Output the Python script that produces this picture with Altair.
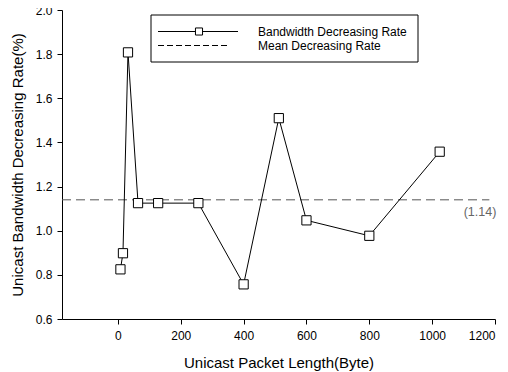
import altair as alt
import pandas as pd

packet_len = [8, 16, 32, 64, 128, 256, 400, 512, 600, 800, 1024]
rate = [0.825, 0.898, 1.808, 1.125, 1.125, 1.125, 0.757, 1.51, 1.047, 0.977, 1.358]
mean_value = 1.14
mean_x = [-178, 1182]

legend_labels = ["Bandwidth Decreasing Rate", "Mean Decreasing Rate"]

FONT = "Liberation Sans"
W, H = 433, 309

df = pd.DataFrame({"x": packet_len, "y": rate})
mean_df = pd.DataFrame({"x": [mean_x[0]], "x2": [mean_x[1]], "y": [mean_value]})
lab_df = pd.DataFrame({"x": [mean_x[1]], "y": [mean_value], "t": [f"({mean_value:.2f})"]})

xscale = alt.Scale(domain=[-178, 1200], nice=False, zero=False)
yscale = alt.Scale(domain=[0.6, 2.0], nice=False, zero=False)

xaxis = alt.Axis(values=[0, 200, 400, 600, 800, 1000, 1200], format="d", title="Unicast Packet Length(Byte)",
                 grid=False, tickSize=5, labelPadding=6, titlePadding=14,
                 domainColor="black", tickColor="black", labelFontSize=12, titleFontSize=15,
                 labelColor="black", titleColor="black", titleFontWeight="normal", labelFont=FONT, titleFont=FONT)
yaxis = alt.Axis(values=[0.6, 0.8, 1.0, 1.2, 1.4, 1.6, 1.8, 2.0], format=".1f",
                 title="Unicast Bandwidth Decreasing Rate(%)",
                 grid=False, tickSize=5, labelPadding=5, titlePadding=10,
                 domainColor="black", tickColor="black", labelFontSize=12, titleFontSize=15,
                 labelColor="black", titleColor="black", titleFontWeight="normal", labelFont=FONT, titleFont=FONT)

X = alt.X("x:Q", scale=xscale, axis=xaxis)
Y = alt.Y("y:Q", scale=yscale, axis=yaxis)

one = pd.DataFrame({"a": [0]})

# hide any frame on the top and right edges of the plot area
edge_top = alt.Chart(one).mark_rule(color="white", strokeWidth=2).encode(
    x=alt.value(1), x2=alt.value(W + 2), y=alt.value(0))
edge_right = alt.Chart(one).mark_rule(color="white", strokeWidth=2).encode(
    x=alt.value(W), y=alt.value(-1), y2=alt.value(H - 1))

base = alt.Chart(df)
line = base.mark_line(color="black", strokeWidth=1).encode(x=X, y=Y)
pts = base.mark_point(shape="square", filled=True, fill="white", stroke="black",
                      strokeWidth=1, opacity=1, size=85).encode(x=X, y=Y)

mean_rule = alt.Chart(mean_df).mark_rule(color="#555555", strokeWidth=1, strokeDash=[9, 5]).encode(
    x=X, x2="x2:Q", y=Y)
mean_text = alt.Chart(lab_df).mark_text(align="right", baseline="middle", dx=7, dy=12,
                                        fontSize=12.5, font=FONT, color="#666666").encode(
    x=X, y=Y, text="t:N")

# legend (decoration, pixel positions inside the plot area)
box = alt.Chart(one).mark_rect(fill="white", stroke="black", strokeWidth=1).encode(
    x=alt.value(89), x2=alt.value(356), y=alt.value(5), y2=alt.value(52))
leg_line1 = alt.Chart(one).mark_rule(color="black", strokeWidth=1).encode(
    x=alt.value(96), x2=alt.value(176), y=alt.value(21.5))
leg_sq = alt.Chart(one).mark_point(shape="square", filled=True, fill="white",
                                   stroke="black", strokeWidth=1, opacity=1, size=50).encode(
    x=alt.value(137), y=alt.value(21.5))
leg_line2 = alt.Chart(one).mark_rule(color="black", strokeWidth=1, strokeDash=[6, 3]).encode(
    x=alt.value(96), x2=alt.value(168), y=alt.value(35.5))
leg_text1 = alt.Chart(one).mark_text(align="left", baseline="middle", fontSize=12, font=FONT,
                                     color="black", text=legend_labels[0]).encode(
    x=alt.value(196), y=alt.value(21.5))
leg_text2 = alt.Chart(one).mark_text(align="left", baseline="middle", fontSize=12, font=FONT,
                                     color="black", text=legend_labels[1]).encode(
    x=alt.value(196), y=alt.value(35.5))

chart = alt.layer(edge_top, edge_right, mean_rule, line, pts, mean_text, box, leg_line1, leg_sq,
                  leg_line2, leg_text1, leg_text2).properties(
    width=W, height=H,
    autosize=alt.AutoSizeParams(type="none"),
    padding={"left": 54, "top": 2, "right": 5, "bottom": 53},
).configure(
    background="white",
    view=alt.ViewConfig(stroke="transparent", strokeWidth=0),
    style={"cell": {"stroke": "transparent", "strokeWidth": 0}},
)

chart.save("out.html", embed_options={"renderer": "svg", "actions": False})
